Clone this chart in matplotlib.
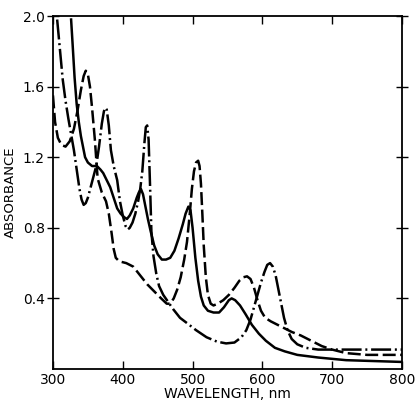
import numpy as np
import matplotlib
matplotlib.use("Agg")
import matplotlib.pyplot as plt

# dashed curve (peaks ~347, 508, 578 nm)
wl_dash = [300, 303, 307, 312, 318, 324, 330, 335, 340, 344, 347, 350, 353, 356, 360,
           364, 370, 376, 380, 384, 387, 390, 395, 405, 415, 425, 435, 445, 455, 463,
           468, 473, 478, 483, 488, 492, 496, 499, 502, 505, 508, 510, 512, 514, 516,
           519, 522, 526, 530, 536, 544, 552, 560, 567, 573, 578, 583, 588, 593, 598,
           604, 612, 622, 632, 642, 655, 670, 685, 700, 720, 750, 780, 800]
abs_dash = [1.55, 1.40, 1.31, 1.27, 1.26, 1.29, 1.36, 1.46, 1.58, 1.66, 1.69, 1.67, 1.60, 1.48, 1.30,
            1.08, 1.00, 0.95, 0.88, 0.77, 0.68, 0.63, 0.61, 0.60, 0.58, 0.53, 0.48, 0.44, 0.40, 0.37,
            0.37, 0.40, 0.45, 0.52, 0.62, 0.72, 0.88, 1.02, 1.12, 1.17, 1.18, 1.15, 1.05, 0.88, 0.70,
            0.52, 0.42, 0.37, 0.36, 0.37, 0.39, 0.42, 0.46, 0.50, 0.52, 0.525, 0.51, 0.46, 0.39, 0.33,
            0.29, 0.27, 0.25, 0.23, 0.21, 0.19, 0.16, 0.13, 0.11, 0.09, 0.08, 0.08, 0.08]

# dash-dot curve (peaks ~375, 435, 611 nm)
wl_dd = [306, 310, 314, 318, 322, 326, 330, 334, 338, 341, 344, 347, 350, 354, 358,
         362, 366, 370, 373, 375, 377, 380, 383, 387, 392, 396, 400, 404, 407, 410,
         414, 418, 422, 425, 428, 431, 433, 435, 437, 439, 441, 444, 448, 452, 458,
         465, 472, 482, 492, 505, 520, 535, 548, 560, 570, 577, 583, 588, 593, 598,
         603, 607, 611, 615, 619, 623, 627, 631, 636, 642, 650, 662, 680, 700, 740, 800]
abs_dd = [1.98, 1.81, 1.64, 1.52, 1.42, 1.33, 1.24, 1.13, 1.02, 0.96, 0.93, 0.94, 0.97, 1.03, 1.09,
          1.15, 1.26, 1.39, 1.46, 1.48, 1.47, 1.38, 1.24, 1.15, 1.07, 0.95, 0.87, 0.81, 0.79, 0.80,
          0.83, 0.88, 0.95, 1.02, 1.12, 1.28, 1.37, 1.38, 1.30, 1.05, 0.78, 0.64, 0.54, 0.47, 0.42,
          0.38, 0.34, 0.29, 0.26, 0.22, 0.18, 0.155, 0.145, 0.15, 0.18, 0.22, 0.28, 0.35, 0.42, 0.49,
          0.55, 0.59, 0.60, 0.58, 0.53, 0.45, 0.37, 0.29, 0.22, 0.17, 0.14, 0.12, 0.11, 0.11, 0.11, 0.11]

# solid curve (peaks ~426, 494, 556 nm)
wl_solid = [326, 328, 331, 334, 337, 340, 343, 346, 350, 356, 363, 368, 372, 377, 382,
            387, 392, 397, 402, 406, 410, 415, 420, 423, 426, 429, 432, 436, 440, 445,
            450, 456, 462, 468, 474, 480, 486, 490, 494, 497, 500, 504, 508, 512, 516,
            522, 530, 538, 545, 552, 556, 561, 568, 576, 585, 595, 605, 618, 632, 650,
            680, 720, 760, 800]
abs_solid = [1.98, 1.85, 1.65, 1.50, 1.40, 1.32, 1.26, 1.20, 1.17, 1.15, 1.15, 1.13, 1.11, 1.07, 1.03,
             0.97, 0.91, 0.88, 0.86, 0.85, 0.87, 0.91, 0.97, 1.00, 1.02, 0.99, 0.93, 0.85, 0.78, 0.70,
             0.65, 0.62, 0.62, 0.63, 0.67, 0.74, 0.82, 0.88, 0.92, 0.90, 0.80, 0.63, 0.50, 0.41, 0.36,
             0.33, 0.32, 0.32, 0.35, 0.39, 0.40, 0.39, 0.36, 0.31, 0.25, 0.20, 0.16, 0.12, 0.10, 0.08,
             0.065, 0.05, 0.045, 0.04]

x_ticks = [300, 400, 500, 600, 700, 800]
y_ticks = [0.4, 0.8, 1.2, 1.6, 2.0]

plt.rcParams['font.family'] = ['DejaVu Sans']

fig = plt.figure(figsize=(4.17, 4.0), dpi=100)
ax = fig.add_axes([0.127, 0.0775, 0.837, 0.8825])

lw = 1.8
ax.plot(wl_dash, abs_dash, color='black', lw=lw, dashes=(5.2, 1.8))
ax.plot(wl_dd, abs_dd, color='black', lw=lw, dashes=(8, 1.5, 0.8, 1.5))
ax.plot(wl_solid, abs_solid, color='black', lw=lw)

ax.set_xlim(300, 800)
ax.set_ylim(0, 2.0)
ax.set_xticks(x_ticks)
ax.set_xticklabels([str(t) for t in x_ticks])
ax.set_yticks(y_ticks)
ax.set_yticklabels(['%.1f' % t for t in y_ticks])

ax.tick_params(axis='x', direction='in', length=6, width=1, top=True, pad=3, labelsize=10)
ax.tick_params(axis='y', direction='inout', length=8, width=1, right=True, pad=2, labelsize=10)
for s in ax.spines.values():
    s.set_linewidth(1.3)

ax.set_xlabel('WAVELENGTH, nm', fontsize=10, labelpad=0)
ax.set_ylabel('ABSORBANCE', fontsize=9.5, labelpad=4)

fig.savefig('out.png', dpi=100)
